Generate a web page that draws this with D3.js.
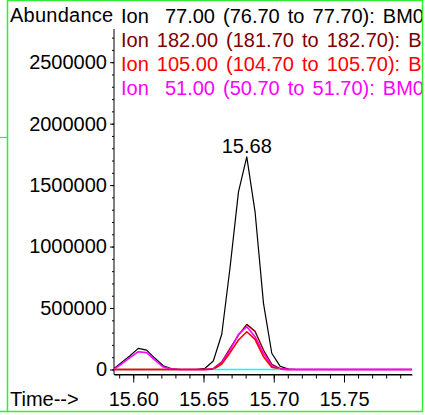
<!DOCTYPE html>
<html><head><meta charset="utf-8">
<script src="https://cdn.jsdelivr.net/npm/d3@7"></script>
<style>
html,body{margin:0;padding:0;background:#fff;}
svg{display:block;font-family:"Liberation Sans",Arial,sans-serif;}
</style></head>
<body><svg id="c" width="425" height="415"></svg>
<script>
// scan times (minutes)
const times = [15.5863,15.5917,15.5977,15.6036,15.6095,15.6155,15.6214,15.6274,15.6333,15.6392,
  15.6452,15.6511,15.6570,15.6630,15.6689,15.6749,15.6808,15.6867,15.6927,15.6986,
  15.7046,15.7105,15.7164,15.7224,15.7283,15.7343,15.7402,15.7461,15.7521,15.7580,
  15.7640,15.7699,15.7758,15.7818,15.7877,15.7937,15.7984];
// abundance per ion
const ion77  = [8000,58000,112000,172000,158000,91000,31000,6000,0,0,
  0,10000,69000,287000,830000,1445000,1730000,1283000,538000,132000,
  25000,4000,0,0,0,0,0,0,0,0,0,0,0,0,0,0,0];
const ion182 = [0,0,0,0,0,0,0,0,0,0,
  0,0,7000,63000,172000,280000,367000,310000,158000,42000,
  7000,0,0,0,0,0,0,0,0,0,0,0,0,0,0,0,0];
const ion51  = [3000,45000,96000,145000,137000,77000,20000,3000,0,0,
  0,0,3000,55000,158000,286000,348000,267000,132000,28000,
  3000,0,0,0,0,0,0,0,0,0,0,0,0,0,0,0,0];
const ion105 = [0,0,0,0,0,0,0,0,0,0,
  0,0,2000,45000,137000,240000,307000,245000,104000,18000,
  2000,0];
const ionCyanTimes = [15.6570,15.6630,15.6689,15.6749,15.6808,15.6867,15.6927,15.6986,15.7046];
const ionCyan = [0,0,0,0,0,0,0,0,0];
const legendLabels = ["Ion  77.00 (76.70 to 77.70): BM03.D\\data.ms",
  "Ion 182.00 (181.70 to 182.70): BM03.D\\data.ms",
  "Ion 105.00 (104.70 to 105.70): BM03.D\\data.ms",
  "Ion  51.00 (50.70 to 51.70): BM03.D\\data.ms"];
const legendColors = ["#000000","#800000","#ff0000","#ff00ff"];
const xMajor = [15.60,15.65,15.70,15.75];
const xMinor = [15.59,15.60,15.61,15.62,15.63,15.64,15.65,15.66,15.67,15.68,15.69,15.70,15.71,15.72,15.73,15.74,15.75,15.76,15.77,15.78,15.79];
const yMajor = [0,500000,1000000,1500000,2000000,2500000];
const yMinor = d3.range(0, 2700001, 100000);
const peakLabel = {t:15.6808, v:1730000, text:"15.68"};

const svg = d3.select("#c");
const FS = 20;
svg.append("defs").append("clipPath").attr("id","clipAll")
  .append("rect").attr("x",0).attr("y",0).attr("width",422).attr("height",415);
const g = svg.append("g").attr("clip-path","url(#clipAll)");

const x = d3.scaleLinear().domain([15.5863,15.7984]).range([114,412]);
const y = d3.scaleLinear().domain([0,2770000]).range([369.5,29]);
const axisY = 374.5;

// x axis
const xa = g.append("g").attr("transform",`translate(0,${axisY})`)
  .call(d3.axisBottom(x).tickValues(xMinor).tickSize(4).tickSizeOuter(0).tickFormat(""));
xa.select(".domain").remove();
const xb = g.append("g").attr("transform",`translate(0,${axisY})`)
  .call(d3.axisBottom(x).tickValues(xMajor).tickSize(8).tickSizeOuter(0).tickPadding(9).tickFormat(d3.format(".2f")));
xb.selectAll("text").attr("font-size",FS).attr("font-family","Liberation Sans, Arial, sans-serif");
g.append("line").attr("x1",x.range()[0]).attr("x2",x.range()[1]).attr("y1",axisY).attr("y2",axisY).attr("stroke","#000");

// y axis
const ya = g.append("g").attr("transform",`translate(${x.range()[0]},0)`)
  .call(d3.axisLeft(y).tickValues(yMinor).tickSize(2).tickFormat(""));
ya.select(".domain").remove();
const yb = g.append("g").attr("transform",`translate(${x.range()[0]},0)`)
  .call(d3.axisLeft(y).tickValues(yMajor).tickSize(4).tickPadding(3).tickFormat(d3.format("d")));
yb.select(".domain").remove();
yb.selectAll("text").attr("font-size",FS).attr("font-family","Liberation Sans, Arial, sans-serif");
g.append("line").attr("x1",x.range()[0]).attr("x2",x.range()[0]).attr("y1",y.range()[1]).attr("y2",axisY).attr("stroke","#000");
g.selectAll(".tick line").attr("stroke","#000");

// lines
const line = d3.line().x(d=>x(d[0])).y(d=>y(d[1]));
const series = [
  {v:ion77, t:times, c:"#000000", w:1.2},
  {v:ion182, t:times, c:"#800000", w:1.4},
  {v:ion51, t:times, c:"#ff00ff", w:1.6},
  {v:ion105, t:times, c:"#ff0000", w:1.6},
  {v:ionCyan, t:ionCyanTimes, c:"#00ffff", w:1.6}
];
series.forEach(s=>{
  g.append("path").datum(s.v.map((v,i)=>[s.t[i],v]))
   .attr("d",line).attr("fill","none").attr("stroke",s.c).attr("stroke-width",s.w).attr("stroke-linejoin","round");
});
// magenta over right baseline
g.append("path").datum(ion51.map((v,i)=>[times[i],v]).slice(20))
  .attr("d",line).attr("fill","none").attr("stroke","#ff00ff").attr("stroke-width",1.6);

// peak label
g.append("text").attr("x",x(peakLabel.t)).attr("y",y(peakLabel.v)-4)
  .attr("text-anchor","middle").attr("font-size",FS).text(peakLabel.text);

// titles
g.append("text").attr("x",10).attr("y",22).attr("font-size",FS).attr("letter-spacing",0.25).text("Abundance");
g.append("text").attr("x",10).attr("y",406).attr("font-size",FS).text("Time-->");

// legend
g.selectAll(".leg").data(legendLabels).enter().append("text")
  .attr("x",121).attr("y",(d,i)=>22.5+i*24.2).attr("font-size",FS)
  .attr("word-spacing",2.5)
  .attr("fill",(d,i)=>legendColors[i]).style("white-space","pre").text(d=>d);

// frame
svg.append("rect").attr("x",7.5).attr("y",0.5).attr("width",415).attr("height",411)
  .attr("fill","none").attr("stroke","#33ee33").attr("stroke-width",1.5);
svg.append("line").attr("x1",0).attr("x2",7.5).attr("y1",137.5).attr("y2",137.5).attr("stroke","#33ee33").attr("stroke-width",1.2);
svg.append("line").attr("x1",0).attr("x2",7.5).attr("y1",411.5).attr("y2",411.5).attr("stroke","#33ee33").attr("stroke-width",1.5);
</script></body></html>
